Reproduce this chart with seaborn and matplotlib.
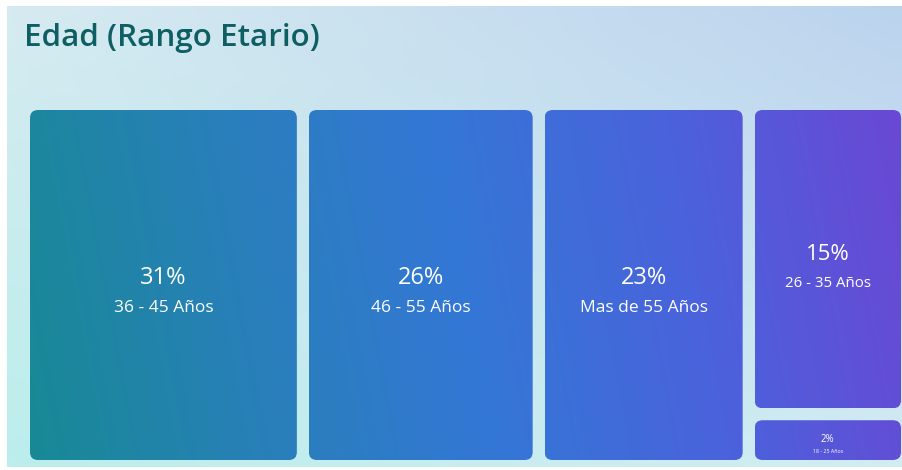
import numpy as np
import matplotlib
matplotlib.use('Agg')
import matplotlib.pyplot as plt
import seaborn as sns
from matplotlib.patches import FancyBboxPatch

# Datos
rangos = ['36 - 45 Años', '46 - 55 Años', 'Mas de 55 Años', '26 - 35 Años', '18 - 25 Años']
porcentajes = [31, 26, 23, 15, 2]
titulo = 'Edad (Rango Etario)'

sns.set_theme(style='white')
plt.rcParams['font.family'] = ['Open Sans', 'DejaVu Sans']

W, H = 902, 470
fig = plt.figure(figsize=(W / 100, H / 100), dpi=100)
ax = fig.add_axes([0, 0, 1, 1])
ax.set_xlim(0, W)
ax.set_ylim(H, 0)
ax.axis('off')

# fondo degradado (4 esquinas)
c_tl = np.array(matplotlib.colors.to_rgb('#d6ebf1'))
c_tr = np.array(matplotlib.colors.to_rgb('#bcd3ee'))
c_bl = np.array(matplotlib.colors.to_rgb('#bbeeec'))
c_br = np.array(matplotlib.colors.to_rgb('#d2ecf4'))
gx, gy = np.meshgrid(np.linspace(0, 1, 200), np.linspace(0, 1, 100))
bg = ((1 - gx)[..., None] * (1 - gy)[..., None] * c_tl + gx[..., None] * (1 - gy)[..., None] * c_tr
      + (1 - gx)[..., None] * gy[..., None] * c_bl + gx[..., None] * gy[..., None] * c_br)
ax.imshow(bg, extent=[7, W, H - 3, 6], aspect='auto', zorder=0)

ax.text(24, 38, titulo, fontsize=22.6, fontweight='semibold', color='#0d5f63',
        va='center', ha='left', zorder=5)

# degradado global del treemap (mayormente horizontal)
cmap = sns.blend_palette(['#188995', '#2880b8', '#3477d6', '#4b62dc', '#6a48d4'], as_cmap=True)

# layout del treemap: 3 columnas + una columna apilada
x0, x1, y0, y1 = 30, 901, 110, 460
gap = 12
total = sum(porcentajes)
cols = [[0], [1], [2], [3, 4]]
avail_w = (x1 - x0) - gap * (len(cols) - 1)
cajas = {}
cx = x0
for col in cols:
    col_sum = sum(porcentajes[i] for i in col)
    w = avail_w * col_sum / total
    avail_h = (y1 - y0) - gap * (len(col) - 1)
    cy = y0
    for i in col:
        h = avail_h * porcentajes[i] / col_sum
        cajas[i] = (cx, cy, w, h)
        cy += h + gap
    cx += w + gap


def color_grad(xs, ys):
    xn = (xs - x0) / (x1 - x0)
    yn = (ys - y0) / (y1 - y0)
    return np.clip(0.93 * xn + 0.07 * (1 - yn), 0, 1)


for i, (bx, by, bw, bh) in cajas.items():
    patch = FancyBboxPatch((bx, by), bw, bh, boxstyle='round,pad=0,rounding_size=8',
                           facecolor='none', edgecolor='none', zorder=2)
    ax.add_patch(patch)
    xs, ys = np.meshgrid(np.linspace(bx, bx + bw, 100), np.linspace(by, by + bh, 100))
    img = ax.imshow(color_grad(xs, ys), cmap=cmap, vmin=0, vmax=1,
                    extent=[bx, bx + bw, by + bh, by], aspect='auto', zorder=2)
    img.set_clip_path(patch)

    mx, my = bx + bw / 2, by + bh / 2
    if bh > 100:
        ancho = bw > 170
        ax.text(mx, my - 7 + (0 if ancho else 2), f'{porcentajes[i]}%',
                fontsize=17 if ancho else 16, color='white',
                ha='center', va='center', zorder=4)
        ax.text(mx, my + 23 + (0 if ancho else 1), rangos[i],
                fontsize=12.5 if ancho else 10.8, color='white',
                ha='center', va='center', zorder=4)
    else:
        ax.text(mx, my - 1, f'{porcentajes[i]}%', fontsize=7, color='white',
                ha='center', va='center', zorder=4)
        ax.text(mx, my + 11, rangos[i], fontsize=3.8, color='white',
                ha='center', va='center', zorder=4)

fig.savefig('out.png', dpi=100, facecolor='white')
